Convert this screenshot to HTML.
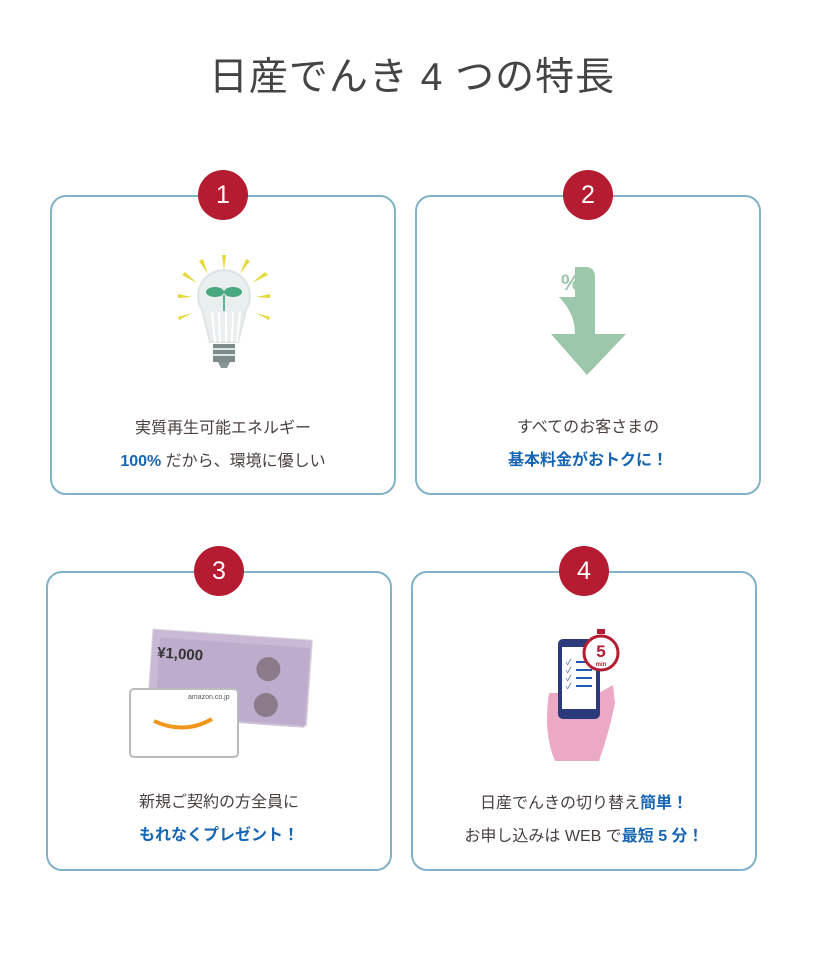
<!DOCTYPE html>
<html><head><meta charset="utf-8"><style>
body{margin:0;width:824px;height:954px;background:#fff;position:relative;font-family:"Liberation Sans","Noto Sans CJK JP",sans-serif;color:#4a4040;overflow:hidden}
h1{position:absolute;top:46px;left:0;width:824px;text-align:center;margin:0;font-weight:normal;font-size:39px;color:#444;letter-spacing:1px}
.card{position:absolute;width:342px;height:296px;border:2px solid #80b1c6;border-radius:16px;box-sizing:content-box}
.num{position:absolute;left:146px;top:-27px;width:50px;height:50px;border-radius:50%;background:#b51c31;color:#fff;font-size:25px;text-align:center;line-height:50px}
.txt{position:absolute;left:0;width:100%;text-align:center;font-size:16px;line-height:33px}
.b{color:#1766b3;font-weight:bold}
.ic{position:absolute;left:0;top:0}
</style></head><body>
<h1>日産でんき 4 つの特長</h1>

<div class="card" style="left:50px;top:195px">
<div class="num">1</div>
<svg class="ic" width="342" height="200">
<g fill="#e6d93a">
<polygon points="170,58 174,58 172,74"/><polygon points="147,64 151,62 156,77"/><polygon points="194,62 198,64 188,77"/>
<polygon points="130,78 133,75 145,86"/><polygon points="213,75 216,78 200,86"/>
<polygon points="126,97 126,101 140,100"/><polygon points="218,97 218,101 204,100"/>
<polygon points="126,120 127,123 140,116"/><polygon points="218,120 217,123 204,116"/>
</g>
<path d="M150,113 A26,26 0 1 1 194,113 L186,145 L158,145 Z" fill="#e9eeee" stroke="#dfe5e5" stroke-width="2"/>
<g stroke="#fff" stroke-width="2"><line x1="160" y1="115" x2="163" y2="145"/><line x1="167" y1="115" x2="168" y2="145"/><line x1="174" y1="115" x2="174" y2="145"/><line x1="181" y1="115" x2="180" y2="145"/><line x1="188" y1="115" x2="185" y2="145"/></g>
<line x1="172" y1="98" x2="172" y2="114" stroke="#5cb393" stroke-width="2"/>
<ellipse cx="163" cy="95" rx="9" ry="5" fill="#4aa880"/><ellipse cx="181" cy="95" rx="9" ry="5" fill="#4aa880"/>
<rect x="161" y="147" width="22" height="18" fill="#7d8b8b"/>
<g stroke="#dfe5e5" stroke-width="2"><line x1="161" y1="152" x2="183" y2="152"/><line x1="161" y1="158" x2="183" y2="158"/></g>
<path d="M166,165 L178,165 L175,171 L169,171 Z" fill="#8b9494"/>
</svg>
<div class="txt" style="top:215px">実質再生可能エネルギー</div>
<div class="txt" style="top:248px"><span class="b">100%</span> だから、環境に優しい</div>
</div>

<div class="card" style="left:415px;top:195px">
<div class="num">2</div>
<svg class="ic" width="342" height="200">
<path d="M132,70 L168,70 Q178,70 178,80 L178,137 L209,137 L170,178 L134,137 L158,137 Q158,110 132,92 Z" fill="#9cc7ab"/>
<rect x="132" y="70" width="26" height="30" fill="#fff"/>
<text x="144" y="93" font-size="22" fill="#9cc7ab" font-family="Liberation Sans" font-weight="bold">%</text>
</svg>
<div class="txt" style="top:214px">すべてのお客さまの</div>
<div class="txt b" style="top:247px">基本料金がおトクに！</div>
</div>

<div class="card" style="left:46px;top:571px">
<div class="num">3</div>
<svg class="ic" width="342" height="200">
<g transform="rotate(4 190 100)">
<rect x="102" y="62" width="160" height="86" fill="#c9b8d6" stroke="#ddd"/>
<rect x="110" y="70" width="150" height="80" fill="#b9a6c9" opacity=".7"/>
<text x="108" y="90" font-size="15" font-weight="bold" fill="#333">¥1,000</text>
<circle cx="220" cy="94" r="12" fill="#8a7a8a"/><circle cx="220" cy="130" r="12" fill="#8a7a8a"/>
</g>
<rect x="82" y="116" width="108" height="68" rx="4" fill="#fff" stroke="#bbb" stroke-width="2"/>
<text x="140" y="126" font-size="7" fill="#555">amazon.co.jp</text>
<path d="M106,148 Q136,162 164,146" stroke="#f0961c" stroke-width="4" fill="none"/>
</svg>
<div class="txt" style="top:213px">新規ご契約の方全員に</div>
<div class="txt b" style="top:246px">もれなくプレゼント！</div>
</div>

<div class="card" style="left:411px;top:571px">
<div class="num">4</div>
<svg class="ic" width="342" height="200">
<path d="M136,120 Q130,160 142,188 L186,188 Q196,160 202,130 L200,112 L186,120 Z" fill="#e79abb" opacity=".85"/>
<rect x="145" y="66" width="42" height="80" rx="5" fill="#2a3a7a"/>
<rect x="149" y="74" width="34" height="62" fill="#fff"/>
<g stroke="#2457b0" stroke-width="2"><line x1="163" y1="89" x2="179" y2="89"/><line x1="163" y1="97" x2="179" y2="97"/><line x1="163" y1="105" x2="179" y2="105"/><line x1="163" y1="113" x2="179" y2="113"/></g>
<g fill="#2457b0" font-size="8"><text x="153" y="92">✓</text><text x="153" y="100">✓</text><text x="153" y="108">✓</text><text x="153" y="116">✓</text></g>
<rect x="184" y="56" width="8" height="5" fill="#b51c31"/>
<circle cx="188" cy="80" r="17" fill="#fff" stroke="#b51c31" stroke-width="3"/>
<text x="188" y="84" font-size="17" font-weight="bold" fill="#b51c31" text-anchor="middle">5</text>
<text x="188" y="93" font-size="6" font-weight="bold" fill="#b51c31" text-anchor="middle">min</text>
</svg>
<div class="txt" style="top:214px">日産でんきの切り替え<span class="b">簡単！</span></div>
<div class="txt" style="top:247px">お申し込みは WEB で<span class="b">最短 5 分！</span></div>
</div>
</body></html>
